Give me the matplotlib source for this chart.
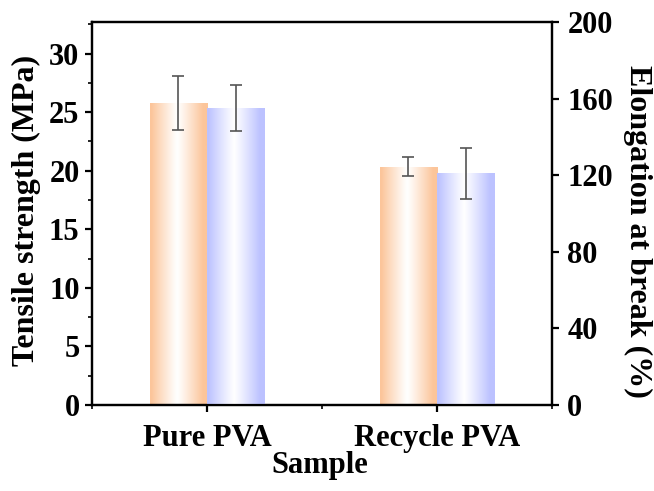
import numpy as np
import matplotlib
matplotlib.use("Agg")
import matplotlib.pyplot as plt
from matplotlib.colors import LinearSegmentedColormap
from matplotlib.ticker import MultipleLocator

plt.rcParams['font.family'] = ['Liberation Serif', 'DejaVu Serif']
plt.rcParams['font.weight'] = 'bold'

samples = ['Pure PVA', 'Recycle PVA']
tensile = [25.8, 20.35]
tensile_err = [2.3, 0.8]
elongation = [155.0, 121.0]
elongation_err = [12.0, 13.4]

orange = '#fcc59a'
blue = '#bcc2ff'


def gradient_fill(ax, bars, color):
    # edge colour -> white in the middle -> edge colour
    cmap = LinearSegmentedColormap.from_list('g', ['white', color])
    t = np.linspace(0, 1, 200)
    w = np.clip(np.abs(t - 0.47) / 0.45, 0, 1) ** 1.1
    img = w[np.newaxis, :]
    for b in bars:
        x, y = b.get_x(), b.get_y()
        im = ax.imshow(img, cmap=cmap, vmin=0, vmax=1, aspect='auto',
                       extent=[x, x + b.get_width(), y, y + b.get_height()],
                       zorder=b.get_zorder(), interpolation='bicubic')
        im.set_clip_path(b)
        b.set_facecolor('none')
        b.set_edgecolor('none')


fig = plt.figure(figsize=(6.54, 4.91), dpi=100)
ax = fig.add_axes([0.1407, 0.1752, 0.7034, 0.78])
ax2 = ax.twinx()

x = np.arange(1, len(samples) + 1)
width = 0.25

b1 = ax.bar(x - width / 2, tensile, width)
ax.errorbar(x - width / 2, tensile, yerr=tensile_err, fmt='none',
            ecolor='#555555', elinewidth=1.2, capsize=4, capthick=1.2, zorder=5)
b2 = ax2.bar(x + width / 2, elongation, width)
ax2.errorbar(x + width / 2, elongation, yerr=elongation_err, fmt='none',
             ecolor='#555555', elinewidth=1.2, capsize=4, capthick=1.2, zorder=5)

ax.set_xlim(0.5, 2.5)
ax.set_ylim(0, 32.7)
ax2.set_ylim(0, 200)
gradient_fill(ax, b1, orange)
gradient_fill(ax2, b2, blue)
ax.set_xlim(0.5, 2.5)
ax.set_ylim(0, 32.7)
ax2.set_ylim(0, 200)

ax.set_xticks(x)
ax.set_xticklabels(samples)
ax.xaxis.set_minor_locator(MultipleLocator(0.5))
ax.set_yticks(np.arange(0, 31, 5))
ax.yaxis.set_minor_locator(MultipleLocator(2.5))
ax2.set_yticks(np.arange(0, 201, 40))

for a in (ax, ax2):
    for s in a.spines.values():
        s.set_linewidth(1.6)
    a.tick_params(which='major', length=5, width=1.6, labelsize=22,
                  direction='out', pad=4)
    a.tick_params(which='minor', length=3, width=1.2, direction='out')
ax.tick_params(axis='x', pad=9)
ax2.tick_params(axis='y', which='both', right=True, pad=6)

ax.set_xlabel('Sample', fontsize=22, fontweight='bold')
ax.set_ylabel('Tensile strength (MPa)', fontsize=23, fontweight='bold')
ax2.set_ylabel('Elongation at break (%)', fontsize=23, fontweight='bold', rotation=-90)

# place axis titles where they sit in the original
ax.xaxis.set_label_coords(0.496, -0.157)
ax.yaxis.set_label_coords(-0.1435, 0.509)
ax2.yaxis.set_label_coords(1.185, 0.454)
for lab in (ax.xaxis.label, ax.yaxis.label, ax2.yaxis.label):
    lab.set_ha('center')
    lab.set_va('center')
    lab.set_rotation_mode('default')

fig.savefig('out.png', dpi=100)
